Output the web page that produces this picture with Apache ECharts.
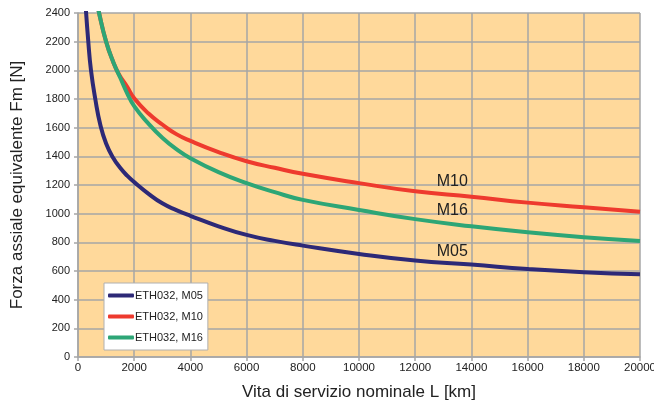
<!DOCTYPE html>
<html><head><meta charset="utf-8">
<script src="https://cdn.jsdelivr.net/npm/echarts@6/dist/echarts.min.js"></script>
<style>html,body{margin:0;padding:0;background:#fff}#c{width:654px;height:404px}</style>
</head><body><div id="c"></div>
<script>
const seriesNames = ['ETH032, M05', 'ETH032, M10', 'ETH032, M16'];
const curveLabels = ['M05', 'M10', 'M16'];
const m05 = [[265,2470],[366,2200],[462,2000],[615,1800],[800,1615],[1000,1490],[1250,1390],[1500,1320],[1750,1265],[2000,1220],[2500,1140],[3000,1072],[3500,1025],[4000,985],[5000,912],[6000,852],[7000,810],[8000,777],[10000,719],[12000,673],[14000,645],[16000,614],[18000,591],[20000,577]];
const m10 = [[690,2470],[750,2400],[1000,2200],[1250,2060],[1450,1975],[1750,1885],[2000,1805],[2500,1700],[3000,1622],[3500,1555],[4000,1508],[5000,1430],[6000,1366],[7000,1320],[8000,1278],[10000,1213],[12000,1156],[14000,1118],[16000,1077],[18000,1045],[20000,1013]];
const m16 = [[690,2470],[750,2400],[1000,2200],[1250,2060],[1500,1950],[1750,1840],[2000,1750],[2500,1630],[3000,1530],[3500,1450],[4000,1387],[5000,1290],[6000,1213],[7000,1150],[8000,1096],[10000,1026],[12000,962],[14000,912],[16000,870],[18000,836],[20000,810]];
const labelPos = [[13321,735],[13321,1222],[13321,1023]];
const xTicks = {min:0, max:20000, interval:2000};
const yTicks = {min:0, max:2400, interval:200};

const colors = ['#2D2977', '#EE3A2E', '#2DA676'];
const font = '"Liberation Sans", Arial, Helvetica, sans-serif';
const data = [m05, m10, m16];

const chart = echarts.init(document.getElementById('c'), null, {renderer:'canvas'});
chart.setOption({
  animation:false,
  textStyle:{fontFamily:font},
  grid:{left:78, right:14, top:13, bottom:47, show:true, backgroundColor:'#FFD99B', borderWidth:0, containLabel:false, outerBoundsMode:'none'},
  legend:{
    orient:'vertical', left:104, top:283, padding:[7,5,7,4],
    backgroundColor:'#fff', borderColor:'#B0B0B0', borderWidth:1, borderRadius:0,
    itemWidth:26, itemHeight:4, itemGap:10, icon:'roundRect',
    textStyle:{fontSize:11, color:'#222', fontFamily:font, padding:[0,0,0,-4]},
    data:seriesNames
  },
  xAxis:{
    type:'value', min:xTicks.min, max:xTicks.max, interval:xTicks.interval,
    name:'Vita di servizio nominale L [km]', nameLocation:'middle', nameGap:27,
    nameTextStyle:{fontSize:17, color:'#222', fontFamily:font},
    axisLine:{show:true, lineStyle:{color:'#A6A6A6', width:1.5}},
    axisTick:{show:true, length:4, lineStyle:{color:'#A6A6A6', width:1.5}},
    axisLabel:{fontSize:11.5, color:'#222', margin:5, fontFamily:font, formatter:v=>String(v)},
    splitLine:{show:true, lineStyle:{color:'#A6A6A6', width:1.5}}
  },
  yAxis:{
    type:'value', min:yTicks.min, max:yTicks.max, interval:yTicks.interval,
    name:'Forza assiale equivalente Fm [N]', nameLocation:'middle', nameGap:52,
    nameTextStyle:{fontSize:17, color:'#222', fontFamily:font},
    axisLine:{show:true, lineStyle:{color:'#A6A6A6', width:1.5}},
    axisTick:{show:true, length:4, lineStyle:{color:'#A6A6A6', width:1.5}},
    axisLabel:{fontSize:11, color:'#222', margin:8, fontFamily:font, formatter:v=>String(v)},
    splitLine:{show:true, lineStyle:{color:'#A6A6A6', width:1.5}}
  },
  series: seriesNames.map((n,i)=>({
    name:n, type:'line', data:data[i], smooth:0.5, showSymbol:false, symbol:'none', clip:true,
    lineStyle:{color:colors[i], width:4}, itemStyle:{color:colors[i]},
    markPoint:{
      symbol:'circle', symbolSize:0, silent:true,
      label:{show:true, position:'inside', formatter:curveLabels[i], fontSize:16, color:'#222', fontFamily:font},
      data:[{coord:labelPos[i]}]
    }
  }))
});
</script></body></html>
